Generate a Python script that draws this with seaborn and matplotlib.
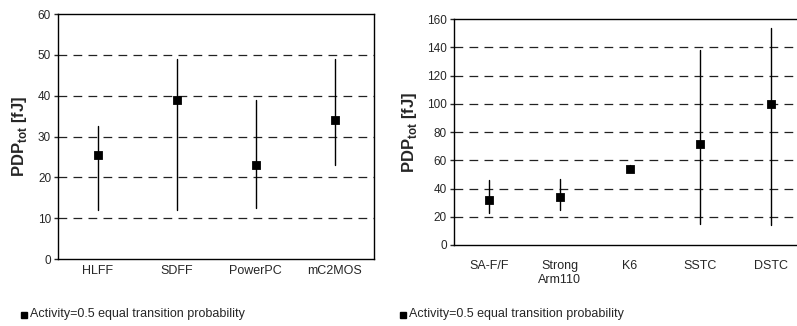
import numpy as np
import pandas as pd
import matplotlib
matplotlib.use("Agg")
import matplotlib.pyplot as plt
from matplotlib.patches import Rectangle
import seaborn as sb

# left chart: min / typical / max PDP in fJ
left_cells = ["HLFF", "SDFF", "PowerPC", "mC2MOS"]
left_low = [12, 12, 12.5, 23]
left_mid = [25.5, 39, 23, 34]
left_high = [32.5, 49, 39, 49]

# right chart
right_cells = ["SA-F/F", "Strong\nArm110", "K6", "SSTC", "DSTC"]
right_low = [23, 25, 53, 15, 14]
right_mid = [32, 34, 54, 71.5, 100]
right_high = [46, 47, 57, 138, 154]

legend_text = "Activity=0.5 equal transition probability"

sb.set_style("white")
plt.rcParams['font.family'] = ['Liberation Sans', 'DejaVu Sans']
plt.rcParams['mathtext.fontset'] = 'custom'
plt.rcParams['mathtext.bf'] = 'Liberation Sans:bold'
plt.rcParams['mathtext.rm'] = 'Liberation Sans'


def long_table(cells, low, mid, high):
    rows = []
    for c, a, b, d in zip(cells, low, mid, high):
        for v in (a, b, d):
            rows.append({'cell': c, 'pdp': v})
    return pd.DataFrame(rows)


def draw_panel(ax, cells, low, mid, high, ymax, step, xpad, right_spine=True):
    df = long_table(cells, low, mid, high)
    # median of (low, mid, high) gives the typical value, errorbar spans min..max
    sb.pointplot(data=df, x='cell', y='pdp', order=cells, estimator='median',
                 errorbar=lambda v: (v.min(), v.max()), markers='s',
                 linestyle='none', color='black', markersize=4.5,
                 err_kws={'linewidth': 1.0, 'color': 'black'}, ax=ax, zorder=3)
    n = len(cells)
    ax.set_xlim(-0.5, n - 0.5)
    ax.set_ylim(0, ymax)
    ticks = np.arange(0, ymax + step, step)
    ax.set_yticks(ticks)
    for t in ticks[1:-1]:
        ax.axhline(t, color='#222222', linestyle=(0, (7, 5)), linewidth=0.9, zorder=1)
    ax.set_xticks(np.arange(-0.5, n, 1.0), minor=True)
    ax.tick_params(axis='x', which='major', length=0, pad=xpad, labelsize=9)
    ax.tick_params(axis='x', which='minor', length=4, width=1, direction='inout')
    ax.tick_params(axis='y', length=3, width=1, direction='out', left=True,
                   labelsize=8.5, pad=2)
    ax.set_xlabel('')
    ax.set_ylabel(r'PDP$_{\bf tot}$ [fJ]', fontweight='bold', fontsize=12, labelpad=6)
    for name, sp in ax.spines.items():
        sp.set_color('black')
        sp.set_linewidth(1.0)
    ax.spines['right'].set_visible(right_spine)


fig = plt.figure(figsize=(7.97, 3.26), dpi=100)
ax1 = fig.add_axes([0.0728, 0.2055, 0.3965, 0.7515])
ax2 = fig.add_axes([0.5696, 0.2485, 0.4417, 0.693])

draw_panel(ax1, left_cells, left_low, left_mid, left_high, 60, 10, xpad=4)
draw_panel(ax2, right_cells, right_low, right_mid, right_high, 160, 20, xpad=11,
           right_spine=False)

# legend entries under each chart
for x0 in (21, 400):
    fig.add_artist(Rectangle((x0 / 797, 0.025), 6 / 797, 6 / 326,
                             transform=fig.transFigure, color='black'))
    fig.text((x0 + 9) / 797, 0.036, legend_text, fontsize=9, va='center', ha='left')

fig.savefig('out.png', dpi=100)
